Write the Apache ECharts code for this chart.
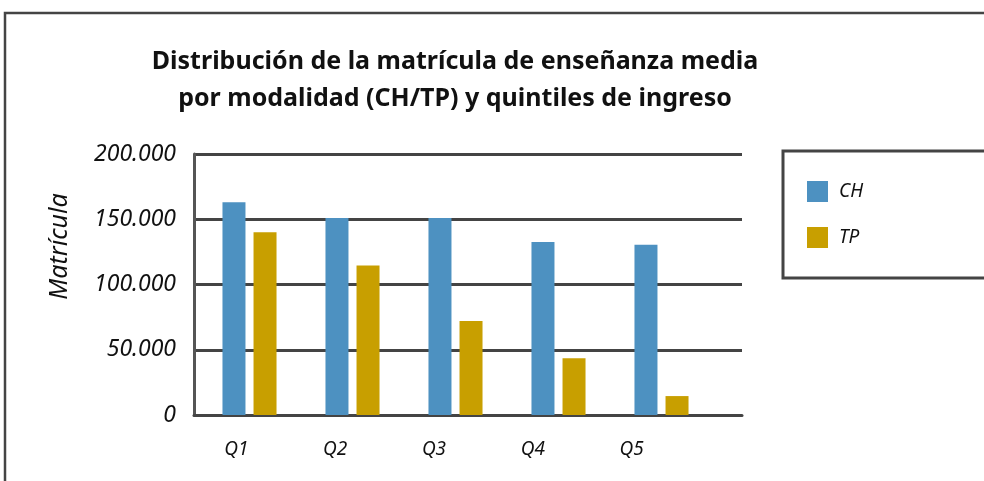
<!DOCTYPE html>
<html>
<head>
<meta charset="utf-8">
<script src="https://cdn.jsdelivr.net/npm/echarts@6/dist/echarts.min.js"></script>
<style>
  html, body { margin: 0; padding: 0; background: #fff; }
  #chart { width: 984px; height: 481px; }
</style>
</head>
<body>
<div id="chart"></div>
<script>
// data
const categories = ['Q1', 'Q2', 'Q3', 'Q4', 'Q5'];
const chValues = [163000, 151000, 151000, 132500, 130500];
const tpValues = [140000, 114500, 72000, 43500, 14500];

const fmt = (v) => String(v).replace(/\B(?=(\d{3})+(?!\d))/g, '.');

const chart = echarts.init(document.getElementById('chart'));

const option = {
  animation: false,
  title: {
    text: 'Distribución de la matrícula de enseñanza media\npor modalidad (CH/TP) y quintiles de ingreso',
    left: 450,
    top: 38,
    textAlign: 'center',
    textStyle: {
      fontFamily: 'Noto Sans',
      fontWeight: 'bold',
      fontSize: 25,
      lineHeight: 37,
      color: '#111',
    },
  },
  legend: {
    orient: 'vertical',
    left: 802,
    top: 176,
    itemWidth: 21,
    itemHeight: 21,
    itemGap: 25,
    icon: 'rect',
    data: ['CH', 'TP'],
    textStyle: {
      fontFamily: 'Noto Sans',
      fontStyle: 'italic',
      fontSize: 19,
      color: '#111',
      padding: [0, 0, 0, 6],
    },
  },
  grid: [
    // frame + gridlines
    { left: 194, right: 242, top: 154, bottom: 66 },
    // bars
    { left: 198, width: 515, top: 154, bottom: 66 },
    // category labels
    { left: 187, width: 494, top: 154, bottom: 66 },
  ],
  xAxis: [
    {
      gridIndex: 0,
      type: 'category',
      data: [''],
      axisLine: { show: true, lineStyle: { color: '#444', width: 3 } },
      axisTick: { show: false },
      axisLabel: { show: false },
    },
    {
      gridIndex: 1,
      type: 'category',
      data: categories,
      axisLine: { show: false },
      axisTick: { show: false },
      axisLabel: { show: false },
    },
    {
      gridIndex: 2,
      type: 'category',
      data: categories,
      axisLine: { show: false },
      axisTick: { show: false },
      axisLabel: {
        margin: 25,
        fontFamily: 'Noto Sans',
        fontStyle: 'italic',
        fontSize: 19,
        color: '#111',
      },
    },
  ],
  yAxis: [
    {
      gridIndex: 0,
      type: 'value',
      min: 0,
      max: 200000,
      interval: 50000,
      name: 'Matrícula',
      nameLocation: 'middle',
      nameGap: 122,
      nameRotate: 90,
      nameTextStyle: {
        fontFamily: 'Noto Sans',
        fontStyle: 'italic',
        fontSize: 25,
        color: '#111',
        padding: [0, 0, 0, 76],
      },
      axisLine: { show: true, lineStyle: { color: '#555', width: 3 } },
      axisTick: { show: false },
      splitLine: { lineStyle: { color: '#444', width: 3 } },
      axisLabel: {
        margin: 18,
        fontFamily: 'Noto Sans',
        fontStyle: 'italic',
        fontSize: 23,
        color: '#111',
        formatter: fmt,
      },
    },
    {
      gridIndex: 1,
      type: 'value',
      min: 0,
      max: 200000,
      show: false,
    },
    {
      gridIndex: 2,
      type: 'value',
      min: 0,
      max: 200000,
      show: false,
    },
  ],
  series: [
    {
      name: 'CH',
      type: 'bar',
      xAxisIndex: 1,
      yAxisIndex: 1,
      data: chValues,
      barWidth: 23,
      barGap: '35%',
      itemStyle: { color: '#4d91c1' },
    },
    {
      name: 'TP',
      type: 'bar',
      xAxisIndex: 1,
      yAxisIndex: 1,
      data: tpValues,
      barWidth: 23,
      barGap: '35%',
      itemStyle: { color: '#c89f00' },
    },
  ],
  graphic: [
    {
      type: 'rect',
      shape: { x: 5, y: 13, width: 1200, height: 700 },
      style: { fill: 'none', stroke: '#444', lineWidth: 2.5 },
      silent: true,
      z: -1,
    },
    {
      type: 'rect',
      shape: { x: 783, y: 151, width: 300, height: 127 },
      style: { fill: 'none', stroke: '#444', lineWidth: 3 },
      silent: true,
    },
  ],
};

chart.setOption(option);
</script>
</body>
</html>
